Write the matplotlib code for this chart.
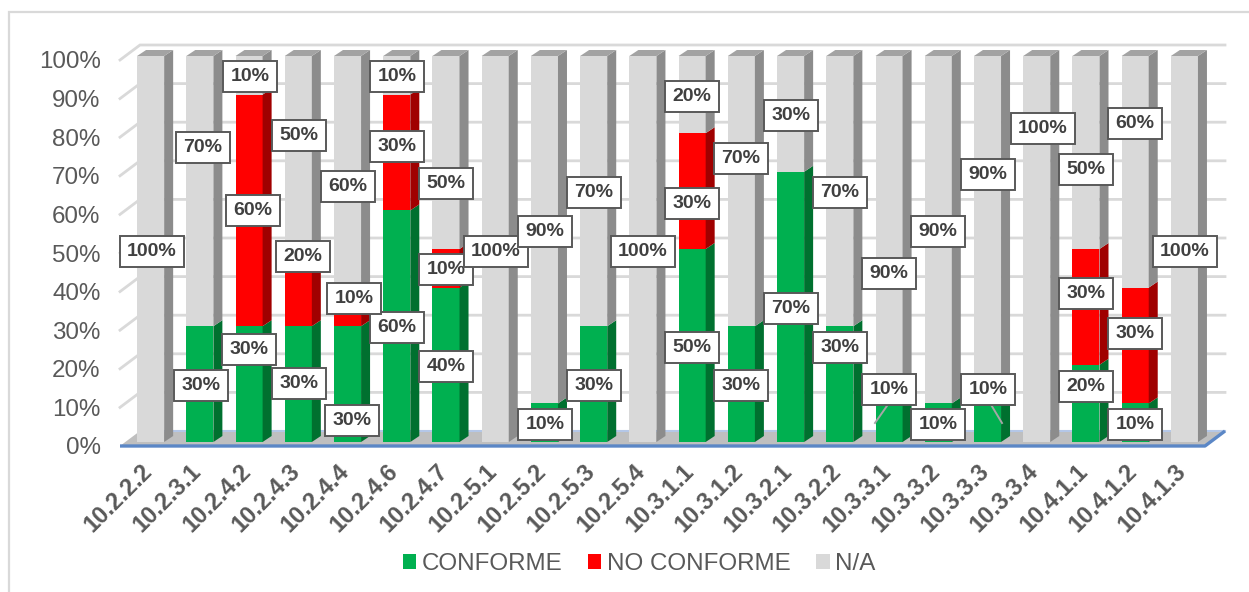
import matplotlib
matplotlib.use("Agg")
import matplotlib.pyplot as plt
from matplotlib.patches import Polygon, Rectangle
from matplotlib.transforms import Affine2D, IdentityTransform

plt.rcParams['font.family'] = ['Liberation Sans', 'DejaVu Sans']

categories = ["10.2.2.2", "10.2.3.1", "10.2.4.2", "10.2.4.3", "10.2.4.4", "10.2.4.6", "10.2.4.7",
              "10.2.5.1", "10.2.5.2", "10.2.5.3", "10.2.5.4", "10.3.1.1", "10.3.1.2", "10.3.2.1",
              "10.3.2.2", "10.3.3.1", "10.3.3.2", "10.3.3.3", "10.3.3.4", "10.4.1.1", "10.4.1.2", "10.4.1.3"]
conforme = [0, 30, 30, 30, 30, 60, 40, 0, 10, 30, 0, 50, 30, 70, 30, 10, 10, 10, 0, 20, 10, 0]
no_conforme = [0, 0, 60, 20, 10, 30, 10, 0, 0, 0, 0, 30, 0, 0, 0, 0, 0, 0, 0, 30, 30, 0]
na = [100, 70, 10, 50, 60, 10, 50, 100, 90, 70, 100, 20, 70, 30, 70, 90, 90, 90, 100, 50, 60, 100]

# label centres in pixels, measured from the top-left corner of the picture
conforme_pos = {1: (201, 384), 2: (249, 348), 3: (299, 382), 4: (352, 419), 5: (397, 326), 6: (446, 365),
                8: (545, 423), 9: (594, 384), 11: (692, 346), 12: (741, 384), 13: (791, 307), 14: (840, 346),
                15: (889, 388), 16: (938, 423), 17: (988, 388), 19: (1086, 385), 20: (1135, 423)}
no_conforme_pos = {2: (253, 209), 3: (303, 255), 4: (354, 297), 5: (397, 145), 6: (446, 268),
                   11: (692, 202), 19: (1086, 292), 20: (1135, 332)}
na_pos = {0: (152, 250), 1: (203, 146), 2: (250, 75), 3: (299, 134), 4: (348, 185), 5: (397, 75),
          6: (446, 182), 7: (496, 250), 8: (545, 230), 9: (594, 191), 10: (643, 250), 11: (692, 95),
          12: (741, 157), 13: (791, 114), 14: (840, 191), 15: (889, 272), 16: (938, 230), 17: (988, 173),
          18: (1043, 127), 19: (1086, 168), 20: (1135, 122), 21: (1185, 250)}
leaders = [((889, 403), (875, 423)), ((990, 403), (1002, 423))]

W, H = 1249, 592
fig = plt.figure(figsize=(W / 100, H / 100), dpi=100, facecolor='white')
px = IdentityTransform()


def py(y):
    return H - y


# chart border: top and left sides only reach the picture
fig.add_artist(Rectangle((9, -20), 1300, H - 12 + 20, transform=px, fill=False, ec='#D9D9D9', lw=1.6))

L, R, T, B = 120, 1205, 60, 446
ax = fig.add_axes([L / W, 1 - B / H, (R - L) / W, (B - T) / H])
XMAX = len(categories) - 0.46
ax.set_xlim(-0.5, XMAX)
ax.set_ylim(0, 100)
for s in ax.spines.values():
    s.set_visible(False)
ax.patch.set_visible(False)

BACK = (20, 15)   # pixel shift of the back wall
BAR = (6, 4)      # pixel shift of the bar fronts
SIDE = (9, 6)     # pixel depth of a bar


def shifted(dx, dy):
    return ax.transData + Affine2D().translate(dx, dy)


# floor
corner = ax.transData.transform([(-0.5, 0), (XMAX, 0)])
floor = [tuple(corner[0]), tuple(corner[1]),
         (corner[1][0] + BACK[0], corner[1][1] + BACK[1]),
         (corner[0][0] + BACK[0], corner[0][1] + BACK[1])]
ax.add_patch(Polygon(floor, closed=True, transform=px, fc='#BFBFBF', ec='none', zorder=1, clip_on=False))
ax.plot([floor[3][0], floor[2][0]], [floor[3][1], floor[2][1]], transform=px, color='#B4C7E7', lw=1.5,
        zorder=1.2, clip_on=False)
ax.plot([floor[0][0], floor[1][0], floor[2][0]], [floor[0][1], floor[1][1], floor[2][1]],
        transform=px, color='#5B87C6', lw=2.4, zorder=1.3, solid_capstyle='butt', clip_on=False)

# gridlines on the wall and the side wall diagonals
yticks = list(range(0, 101, 10))
for v in yticks:
    p = ax.transData.transform((-0.5, v))
    q = ax.transData.transform((XMAX, v))
    if v > 0:
        ax.plot([p[0], p[0] + BACK[0], q[0] + BACK[0]], [p[1], p[1] + BACK[1], q[1] + BACK[1]],
                transform=px, color='#D9D9D9', lw=2.0, zorder=0.5, solid_joinstyle='miter', clip_on=False)

# bars
width = 0.55
bar_tf = shifted(*BAR)
series = [(conforme, '#00B050', '#00702F', '#00702F'),
          (no_conforme, '#FF0000', '#A00000', '#A00000'),
          (na, '#D9D9D9', '#8C8C8C', '#A3A3A3')]
bottoms = [0] * len(categories)
for vals, front, side, top in series:
    ax.bar(range(len(categories)), vals, width=width, bottom=bottoms, color=front, transform=bar_tf,
           zorder=3, clip_on=False)
    for i, v in enumerate(vals):
        if v == 0:
            continue
        x1, y0 = bar_tf.transform((i + width / 2, bottoms[i]))
        _, y1 = bar_tf.transform((i + width / 2, bottoms[i] + v))
        x0, _ = bar_tf.transform((i - width / 2, 0))
        ax.add_patch(Polygon([(x1, y0), (x1 + SIDE[0], y0 + SIDE[1]), (x1 + SIDE[0], y1 + SIDE[1]), (x1, y1)],
                             closed=True, transform=px, fc=side, ec='none', zorder=3, clip_on=False))
        if bottoms[i] + v == 100:
            ax.add_patch(Polygon([(x0, y1), (x1, y1), (x1 + SIDE[0], y1 + SIDE[1]), (x0 + SIDE[0], y1 + SIDE[1])],
                                 closed=True, transform=px, fc=top, ec='none', zorder=3, clip_on=False))
    bottoms = [b + v for b, v in zip(bottoms, vals)]

# axis labels
ax.set_yticks(yticks)
ax.set_yticklabels([f"{v}%" for v in yticks], fontsize=17.4, color='#595959')
ax.set_xticks(range(len(categories)))
ax.set_xticklabels(categories, fontsize=17, fontweight='bold', color='#595959',
                   rotation=45, ha='right', va='top', rotation_mode='anchor')
ax.tick_params(axis='both', length=0)
ax.tick_params(axis='y', pad=14)
ax.tick_params(axis='x', pad=9)
for lab in ax.get_xticklabels():
    lab.set_transform(lab.get_transform() + Affine2D().translate(-4, -1))

# leader lines
for a, b in leaders:
    ax.plot([a[0], b[0]], [py(a[1]), py(b[1])], transform=px, color='#A6A6A6', lw=1.4, zorder=4, clip_on=False)

# data labels
for vals, pos in ((conforme, conforme_pos), (no_conforme, no_conforme_pos), (na, na_pos)):
    for i, (x, y) in pos.items():
        ax.text(x, py(y + 1.5), f"{vals[i]}%", transform=px, ha='center', va='center', fontsize=14,
                fontweight='bold', color='#404040', zorder=5, clip_on=False,
                bbox=dict(boxstyle='square,pad=0.38', fc='white', ec='#595959', lw=1.4))

# legend
handles = [Rectangle((0, 0), 1, 1, fc=c, ec='none') for c in ('#00B050', '#FF0000', '#D9D9D9')]
fig.legend(handles, ['CONFORME', 'NO CONFORME', 'N/A'], loc='center', ncol=3, frameon=False,
           bbox_to_anchor=(639 / W, 1 - 564 / H), fontsize=17.4, labelcolor='#595959',
           handlelength=0.55, handleheight=0.55, handletextpad=0.22, columnspacing=1.07)

fig.savefig('out.png', dpi=100)
